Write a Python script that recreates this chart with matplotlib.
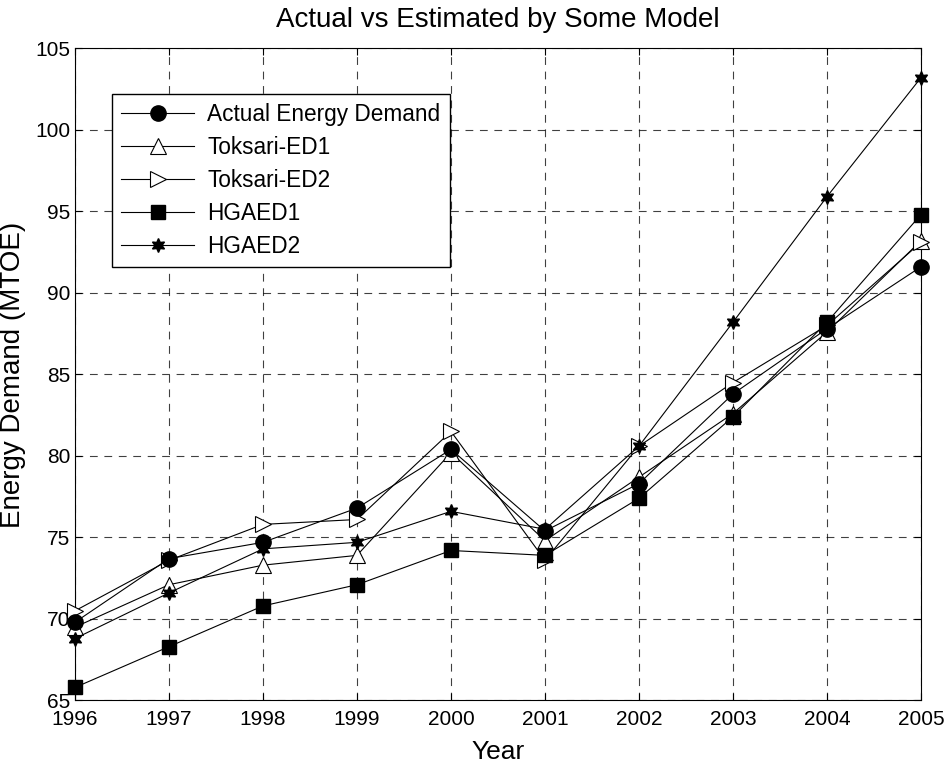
import matplotlib
matplotlib.use('Agg')
import matplotlib.pyplot as plt

plt.rcParams['font.family'] = ['Liberation Sans', 'DejaVu Sans']

years = [1996, 1997, 1998, 1999, 2000, 2001, 2002, 2003, 2004, 2005]
actual = [69.8, 73.7, 74.7, 76.8, 80.4, 75.4, 78.3, 83.8, 87.8, 91.6]
toksari_ed1 = [69.5, 72.1, 73.3, 73.9, 80.2, 74.8, 78.7, 82.6, 87.6, 93.2]
toksari_ed2 = [70.5, 73.6, 75.8, 76.1, 81.5, 73.6, 80.6, 84.5, 88.0, 93.1]
hgaed1 = [65.8, 68.3, 70.8, 72.1, 74.2, 73.9, 77.4, 82.4, 88.2, 94.8]
hgaed2 = [68.8, 71.6, 74.3, 74.7, 76.6, 75.5, 80.6, 88.2, 95.9, 103.2]

fig = plt.figure(figsize=(9.52, 7.69), dpi=100)
ax = fig.add_axes([0.0788, 0.0891, 0.8886, 0.8481])

lw = 0.8
ax.plot(years, actual, '-', color='k', lw=lw, marker='o', ms=11,
        mfc='k', mec='k', label='Actual Energy Demand', clip_on=False, zorder=6)
ax.plot(years, toksari_ed1, '-', color='k', lw=lw, marker='^', ms=11,
        mfc='w', mec='k', mew=0.8, label='Toksari-ED1', clip_on=False, zorder=3)
ax.plot(years, toksari_ed2, '-', color='k', lw=lw, marker='>', ms=11,
        mfc='w', mec='k', mew=0.8, label='Toksari-ED2', clip_on=False, zorder=3)
ax.plot(years, hgaed1, '-', color='k', lw=lw, marker='s', ms=10,
        mfc='k', mec='k', label='HGAED1', clip_on=False, zorder=4)
ax.plot(years, hgaed2, '-', color='k', lw=lw, marker=(6, 1, 0), ms=10,
        mfc='k', mec='k', label='HGAED2', clip_on=False, zorder=5)

ax.set_xlim(1996, 2005)
ax.set_ylim(65, 105)
ax.set_xticks(years)
ax.set_yticks(range(65, 106, 5))
ax.tick_params(direction='in', top=True, right=True, labelsize=15, length=5)
ax.tick_params(axis='x', pad=7)
ax.grid(True, color='k', linestyle=(0, (7, 6)), linewidth=0.8, alpha=0.75)

ax.set_title('Actual vs Estimated by Some Model', fontsize=20, pad=15)
ax.set_xlabel('Year', fontsize=19, labelpad=8)
ax.set_ylabel('Energy Demand (MTOE)', fontsize=20)
ax.yaxis.set_label_coords(-0.058, 0.5)

leg = ax.legend(loc='upper left', bbox_to_anchor=(0.044, 0.93), fontsize=16.3,
                fancybox=False, edgecolor='k', framealpha=1, borderaxespad=0,
                handlelength=3.2, handletextpad=0.6, labelspacing=0.44)
leg.get_frame().set_linewidth(1.0)

fig.savefig('out.png', dpi=100)
